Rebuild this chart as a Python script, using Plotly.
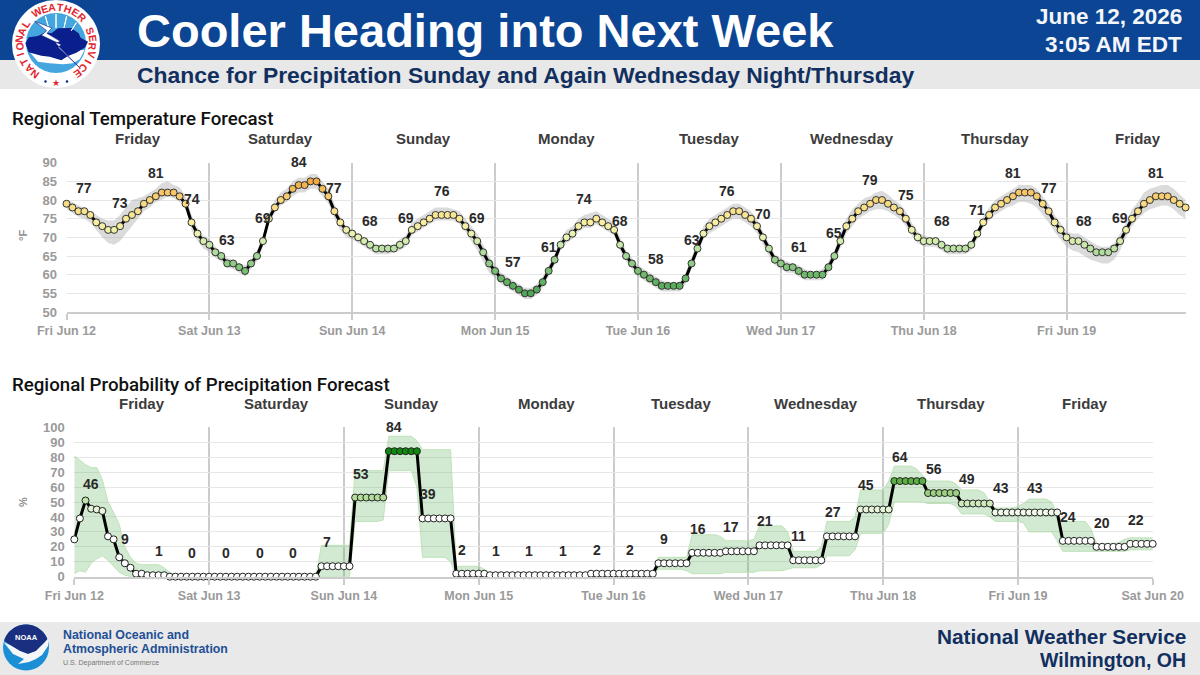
import math
import pandas as pd
import plotly.graph_objects as go

# ---------- data ----------
temp_f = [
 79,78,77,77,76,74,73,72,72,73,75,76,
 77,79,80,81,82,82,82,81,79,74,71,69,
 68,66,65,63,63,62,61,63,65,69,75,78,
 80,81,83,84,84,85,85,83,81,77,74,72,
 71,70,69,68,67,67,67,67,
 68,69,72,73,74,75,76,76,76,76,75,73,
 71,69,66,63,61,59,58,57,56,55,55,56,
 58,61,64,68,70,71,73,74,74,75,74,73,
 72,68,65,63,61,60,59,58,57,57,57,57,
 59,63,67,71,73,74,75,76,77,77,76,75,
 73,70,67,64,63,62,62,61,60,60,60,60,
 62,65,69,73,75,77,78,79,80,80,79,78,
 77,75,72,70,69,69,69,68,67,67,67,67,
 68,71,74,76,78,79,80,81,82,82,82,81,
 79,77,74,72,70,69,69,68,67,66,66,66,
 67,69,72,75,77,79,80,81,81,81,80,79,
 78]
temp_hi = [
 80,79.5,78.5,78,77,76,75,74.5,74.5,76,78,80,
 80.5,81,82,83,84.5,85,84,83.5,81,76,72.5,70.5,
 69.5,67.5,66,64.5,64,63,62.5,64,66.5,70.5,76.5,80,
 82,83,85,86,86,87,87,85,83,79,75.5,73,
 72,71,70,69,68,68,68,68,
 69.5,70.5,74,75,76,77,78,78,78,77.5,77,75,
 73,71,68,65,62.5,60.5,59.5,58.5,57.5,56.5,56.5,57.5,
 59.5,62.5,65.5,69.5,72,73,75,76,76.5,77,76,75,
 74,70,66.5,64.5,62.5,61.5,60.5,59.5,58.5,58,58,58,
 60.5,64.5,68.5,73,75,76,77,78,79,79,78,77,
 75,71.5,68.5,65.5,64.5,63.5,63,62.5,61.5,61,61,61.5,
 63.5,66.5,71,75,77.5,79,80.5,81,82,82.5,81.5,80,
 79,77,74,71.5,70.5,70,70,69,68,68,68,68,
 69,72,75.5,78,80,81,82,83,84,84,84,83,
 81,79,76,74,71.5,71,71,70,69,68,67.5,67.5,
 68.5,71,74,77.5,79.5,82,83,83.5,84,84,83,81.5,
 80]
temp_lo = [
 77.5,76.5,75.5,75,74,72,70,68.5,68,69,71,73,
 75,77,78,79.5,80,81,80.5,79.5,77.5,72,69,67,
 66,64.5,63.5,62,61.5,60.5,59.5,61.5,63.5,67.5,74,76.5,
 78.5,79.5,81,82,82,83,83,81,79,75,72,70,
 69.5,68.5,67.5,66.5,65.5,65.5,65.5,66,
 66.5,67.5,70.5,71.5,72.5,73.5,74.5,74.5,74.5,74.5,73.5,71.5,
 69,66.5,63.5,60.5,59,57.5,56.5,55.5,54.5,53.5,53.5,54.5,
 56.5,59.5,62.5,66.5,68.5,69.5,71.5,72.5,72.5,73.5,72.5,71.5,
 70.5,66.5,63.5,61.5,59.5,58.5,57.5,56.5,55.5,55.5,55.5,55.5,
 57.5,61.5,65.5,69.5,71,72,73,74,75,75,74,73,
 71,68,65,62.5,61.5,60.5,60.5,59.5,58.5,58.5,58.5,58.5,
 60.5,63.5,67,71,73,75,76,77,77.5,77.5,77,76,
 75,73,70.5,68.5,67.5,67.5,67.5,66.5,65.5,65.5,65.5,65.5,
 66.5,69.5,72.5,74.5,76,77,78,78.5,79.5,79.5,79,78,
 76,74,71.5,69.5,67.5,66.5,66,65,64,63.5,63,63,
 64,66.5,70,73,75,76.5,77.5,78,78.5,78.5,77.5,76,
 75]
temp_labels = [77,73,81,74,63,69,84,77,68,69,76,69,57,61,74,68,58,63,76,70,61,65,79,75,68,71,81,77,68,69,81]

pop = [
 25,39,51,45.5,45,44,
 27,25,13,9,6,2,
 2,1,1,1,1,0,
 0,0,0,0,0,0, 0,0,0,0,0,0, 0,0,0,0,0,0, 0,0,0,0,0,0,
 0,0,7,7,7,7, 7,7,53,53,53,53, 53,53,84,84,84,84, 84,84,39,39,39,39, 39,39,2,2,2,2,
 2,2,1,1,1,1, 1,1,1,1,1,1, 1,1,1,1,1,1, 1,1,2,2,2,2, 2,2,2,2,2,2, 2,2,
 9,9,9,9,9,9, 16,16,16,16,16,16, 17,17,17,17,17,17, 21,21,21,21,21,21,
 11,11,11,11,11,11, 27,27,27,27,27,27, 45,45,45,45,45,45, 64,64,64,64,64,64,
 56,56,56,56,56,56, 49,49,49,49,49,49, 43,43,43,43,43,43, 43,43,43,43,43,43,
 24,24,24,24,24,24, 20,20,20,20,20,20, 22,22,22,22,22]
pop_hi = [
 81,78,75,73,73,65,
 50,43,35,20,13,9,
 8,8,8,8,6,3,
 1,0,0,0,0,0, 0,0,0,0,0,0, 0,0,0,0,0,0, 0,0,0,0,0,0,
 0,0,21,21,21,21, 21,21,71,71,71,71, 71,71,94,94,94,94, 94,91,85,85,85,85, 85,85,7,7,7,7,
 7,5,1,1,1,1, 1,1,1,1,1,1, 1,1,1,1,1,1, 1,1,2,2,2,2, 2,2,2,2,2,2, 2,3,
 13,13,13,13,13,13, 28,28,28,28,28,27, 24,24,24,24,24,25, 34,34,34,34,34,30,
 17,17,17,17,17,20, 37,37,37,37,37,40, 58,58,58,58,58,64, 74,74,74,74,72,68,
 64,64,64,64,64,62, 58,58,58,58,56,50, 46,46,46,46,47,49, 52,52,52,52,50,42,
 37,37,37,37,37,32, 22,22,22,22,23,25, 26,26,26,26,26]
pop_lo = [
 2,4,3,9,12,14,
 11,7,3,1,0,0,
 0,0,0,0,0,0,
 0,0,0,0,0,0, 0,0,0,0,0,0, 0,0,0,0,0,0, 0,0,0,0,0,0,
 0,0,0,0,0,0, 0,0,37,37,37,37, 37,38,71,71,71,71, 71,60,13,13,13,13, 13,10,0,0,0,0,
 0,0,0,0,0,0, 0,0,0,0,0,0, 0,0,0,0,0,0, 0,0,0,0,0,0, 0,0,0,0,0,0, 0,0,
 5,5,5,5,5,4, 2,2,2,2,2,2, 3,3,3,3,3,3, 4,4,4,4,4,5,
 6,6,6,6,6,8, 14,14,14,14,14,18, 29,29,29,29,29,35, 50,50,50,50,50,50,
 49,49,49,49,49,47, 42,42,42,42,42,40, 37,37,37,37,37,36, 30,30,30,30,30,24,
 17,17,17,17,17,17, 17,17,17,17,17,17, 18,18,18,18,18]
pop_labels = [46,9,1,0,0,0,0,7,53,84,39,2,1,1,1,2,2,9,16,17,21,11,27,45,64,56,49,43,43,24,20,22]

day_names = ["Friday","Saturday","Sunday","Monday","Tuesday","Wednesday","Thursday","Friday"]
temp_ticks = ["Fri Jun 12","Sat Jun 13","Sun Jun 14","Mon Jun 15","Tue Jun 16","Wed Jun 17","Thu Jun 18","Fri Jun 19"]
pop_ticks = temp_ticks + ["Sat Jun 20"]
start = pd.Timestamp("2026-06-12")
hours_t = [start + pd.Timedelta(hours=h) for h in range(len(temp_f))]
hours_p = [start + pd.Timedelta(hours=h) for h in range(len(pop))]
tick_dates_t = [start + pd.Timedelta(days=d) for d in range(8)]
tick_dates_p = [start + pd.Timedelta(days=d) for d in range(9)]
assert len(temp_f) == len(temp_hi) == len(temp_lo) == 189
assert len(pop) == len(pop_hi) == len(pop_lo) == 193, (len(pop), len(pop_hi), len(pop_lo))

# ---------- helpers ----------
W, H = 1200, 675
def fx(x): return x / W
def fy(y): return 1 - y / H

shapes, notes = [], []
def rect(x0, y0, x1, y1, color):
    shapes.append(dict(type="rect", xref="paper", yref="paper", x0=fx(x0), x1=fx(x1), y0=fy(y0), y1=fy(y1),
                       fillcolor=color, line_width=0, layer="below"))
def circle(cx, cy, r, color, layer="above"):
    shapes.append(dict(type="circle", xref="paper", yref="paper", x0=fx(cx-r), x1=fx(cx+r), y0=fy(cy+r), y1=fy(cy-r),
                       fillcolor=color, line_width=0, layer=layer))
def poly(pts, color, line=None, lw=0):
    d = "M" + " L".join(f"{fx(x):.5f},{fy(y):.5f}" for x, y in pts) + " Z"
    shapes.append(dict(type="path", xref="paper", yref="paper", path=d, fillcolor=color,
                       line=dict(color=line or color, width=lw), layer="above"))
def text(x, y, s, size, color, bold=False, anchor="left", family="Liberation Sans", angle=0, weight=None):
    s2 = f"<b>{s}</b>" if bold else s
    f = dict(size=size, color=color, family=family)
    if weight:
        f["weight"] = weight
    # annotation boxes carry about 2px of padding
    x = x - 2 if anchor == "left" else x + 2 if anchor == "right" else x
    notes.append(dict(xref="x3", yref="y3", x=x, y=y, text=s2, showarrow=False,
                      xanchor=anchor, yanchor="middle", textangle=angle, font=f))

# header / footer
rect(0, 0, 1200, 60, "#0b4594")
rect(0, 60, 1200, 89, "#e8e8e8")
rect(0, 622, 1200, 675, "#e9e9e9")
text(137, 30, "Cooler Heading into Next Week", 47, "white", True)
text(137, 75, "Chance for Precipitation Sunday and Again Wednesday Night/Thursday", 22.9, "#12305f", True)
text(1182, 16, "June 12, 2026", 22.5, "#f4f6fa", True, "right")
text(1182, 44, "3:05 AM EDT", 22.5, "#f4f6fa", True, "right")
text(12, 119, "Regional Temperature Forecast", 18.7, "#111111", False, family="Roboto", weight=500)
text(12, 385, "Regional Probability of Precipitation Forecast", 18.7, "#111111", False, family="Roboto", weight=500)
text(1186, 636, "National Weather Service", 20.8, "#12305f", True, "right")
text(1186, 660, "Wilmington, OH", 19.5, "#12305f", True, "right")
text(63, 635, "National Oceanic and", 12.4, "#1e4f96", True)
text(63, 649, "Atmospheric Administration", 12.3, "#1e4f96", True)
text(63, 663, "U.S. Department of Commerce", 7, "#777777")

# NWS logo
def z(x, y): return (x / 3 + 8, y / 3)
circle(56, 44, 44, "white")
circle(56, 43, 30, "#45a5de")
poly([z(*p) for p in [(60,150),(230,150),(215,178),(195,190),(165,193),(125,190),(90,185)]], "white")
poly([z(*p) for p in [(52,130),(62,112),(90,108),(112,97),(130,100),(150,85),(190,84),(212,100),(218,113),(240,125),(232,142),(205,158),(180,168),(160,181),(125,170),(100,167),(62,157)]], "#0a1f8c")
for a, b in [((144,42),(144,84)), ((112,48),(122,84)), ((176,48),(168,84)), ((205,68),(190,92))]:
    poly([z(*a), z(*b)], "white", "white", 1)
poly([z(*p) for p in [(80,64),(132,84),(117,100),(157,124),(143,130),(214,202),(150,142),(160,134),(100,106),(116,92)]], "white", "#0a1f8c", 0.6)
word = "NATIONAL WEATHER SERVICE"
for i, ch in enumerate(word):
    if ch == " ":
        continue
    th = -144 + 288 * i / (len(word) - 1)
    px = 56 + 37 * math.sin(math.radians(th))
    py = 44 - 37 * math.cos(math.radians(th))
    text(px, py, ch, 10.5, "#e5232c", True, "center", angle=th)
text(56, 83, "★", 9, "#e5232c", False, "center", family="DejaVu Sans")
circle(45.5, 81.5, 1.2, "#0a1f8c")
circle(67, 81.5, 1.2, "#0a1f8c")

# NOAA logo
nx, ny, nr = 26, 647.5, 23
circle(nx, ny, nr, "#1b8fd6")
dome = [(nx + nr*math.cos(math.radians(a)), ny + nr*math.sin(math.radians(a))) for a in range(198, 343, 6)]
poly(dome + [(44, 643), (36, 651), (28, 654), (20, 651), (10, 645)], "#1a2f7f")
poly([(3.5, 642), (10, 645), (20, 651), (28, 654), (36, 651), (44, 643), (48.5, 638), (48, 646), (42, 655), (36, 659),
      (29, 662), (18, 664), (24, 659), (13, 654)], "#f4f6f8")
text(26, 637, "NOAA", 7.5, "white", True, "center")

# axis titles
text(23, 236, "°F", 11, "#8e8e8e", True, "center", angle=-90)
text(23, 502, "%", 11, "#8e8e8e", True, "center", angle=-90)

# chart-linked annotations
GREY = "#9a9a9a"
for i, name in enumerate(day_names):
    notes.append(dict(xref="x", yref="y3", x=start + pd.Timedelta(hours=12 + 24*i), y=138, text=f"<b>{name}</b>",
                      showarrow=False, yanchor="middle", font=dict(size=15, color="#3c3c3c", family="Liberation Sans")))
    notes.append(dict(xref="x2", yref="y3", x=start + pd.Timedelta(hours=12 + 24*i), y=403, text=f"<b>{name}</b>",
                      showarrow=False, yanchor="middle", font=dict(size=15, color="#3c3c3c", family="Liberation Sans")))
for i, v in enumerate(temp_labels):
    h = 3 + 6*i
    notes.append(dict(xref="x", yref="y", x=hours_t[h], y=temp_f[h], yshift=23.5, text=f"<b>{v}</b>", showarrow=False,
                      yanchor="middle", font=dict(size=14, color="#2a2a2a", family="Liberation Sans")))
for i, v in enumerate(pop_labels):
    h = 3 + 6*i
    notes.append(dict(xref="x2", yref="y2", x=start + pd.Timedelta(hours=h), y=v, yshift=24, text=f"<b>{v}</b>", showarrow=False,
                      yanchor="middle", font=dict(size=14, color="#2a2a2a", family="Liberation Sans")))

fig = go.Figure()
# temperature
fig.add_trace(go.Scatter(x=hours_t, y=temp_lo, mode="lines", line=dict(width=0), showlegend=False, hoverinfo="skip", xaxis="x", yaxis="y"))
fig.add_trace(go.Scatter(x=hours_t, y=temp_hi, mode="lines", line=dict(width=0, color="#d4d4d4"), fill="tonexty",
                         fillcolor="rgba(170,170,170,0.42)", showlegend=False, hoverinfo="skip", xaxis="x", yaxis="y"))
fig.add_trace(go.Scatter(x=hours_t, y=temp_f, mode="lines+markers", showlegend=False, xaxis="x", yaxis="y", cliponaxis=False,
    line=dict(color="#000000", width=3),
    marker=dict(size=7, color=temp_f, cmin=50, cmax=90,
                colorscale=[[0, "#2f8a3c"], [0.125, "#4fa455"], [0.25, "#6fba6a"], [0.375, "#a4d696"], [0.45, "#c8e8ac"], [0.5, "#e6f2b4"],
                            [0.6, "#f8ee9e"], [0.75, "#f8d67c"], [0.875, "#f2ab42"], [1, "#ec8a20"]],
                line=dict(color="#333333", width=1))))
# precipitation
fig.add_trace(go.Scatter(x=hours_p, y=pop_lo, mode="lines", line=dict(width=1, color="#bfe2b8"), showlegend=False, hoverinfo="skip", xaxis="x2", yaxis="y2"))
fig.add_trace(go.Scatter(x=hours_p, y=pop_hi, mode="lines", line=dict(width=1, color="#bfe2b8"), fill="tonexty",
                         fillcolor="rgba(90,180,90,0.28)", showlegend=False, hoverinfo="skip", xaxis="x2", yaxis="y2"))
fig.add_trace(go.Scatter(x=hours_p, y=pop, mode="lines+markers", showlegend=False, xaxis="x2", yaxis="y2", cliponaxis=False,
    line=dict(color="#000000", width=3),
    marker=dict(size=7, color=pop, cmin=0, cmax=100,
                colorscale=[[0, "#ffffff"], [0.4, "#ffffff"], [0.46, "#e3f3d4"], [0.53, "#b4dd9c"], [0.64, "#5bb044"], [0.84, "#0f8a10"], [1, "#0a6e0a"]],
                line=dict(color="#222222", width=1))))
# empty trace so the page-pixel axes used for placing titles exist
fig.add_trace(go.Scatter(x=[], y=[], xaxis="x3", yaxis="y3", showlegend=False))

axis_font = dict(size=12.5, color=GREY, family="Liberation Sans")
y_font = dict(size=13, color=GREY, family="Liberation Sans")
T_X = [66.5, 1185.6]; T_Y = [162.7, 312]
P_X = [74.3, 1152.7]; P_Y = [427.3, 576.7]
fig.update_layout(
    width=W, height=H, margin=dict(l=0, r=0, t=0, b=0, autoexpand=False), paper_bgcolor="white", plot_bgcolor="rgba(0,0,0,0)",
    showlegend=False, shapes=shapes, annotations=notes,
    xaxis3=dict(domain=[0, 1], range=[0, W], visible=False, anchor="y3", fixedrange=True, automargin=False),
    yaxis3=dict(domain=[0, 1], range=[H, 0], visible=False, anchor="x3", fixedrange=True, automargin=False),
    xaxis=dict(domain=[fx(T_X[0]), fx(T_X[1])], range=[hours_t[0], hours_t[-1]], anchor="y", tickmode="array", automargin=False,
               tickvals=tick_dates_t, ticktext=[f"<b>{t}</b>" for t in temp_ticks], showgrid=True, gridcolor="#cccccc", gridwidth=1.5,
               ticks="outside", ticklen=6, tickcolor="#cccccc", tickwidth=1.5, tickfont=axis_font, showline=True, linecolor="#cccccc", linewidth=2, zeroline=False),
    yaxis=dict(domain=[fy(T_Y[1]), fy(T_Y[0])], range=[50, 90], dtick=5, anchor="x", gridcolor="#e6e6e6", gridwidth=1, automargin=False,
               tickfont=y_font, tickprefix="<b>", ticksuffix="</b>", zeroline=False, ticklen=6, ticks="outside", tickcolor="rgba(0,0,0,0)"),
    xaxis2=dict(domain=[fx(P_X[0]), fx(P_X[1])], range=[hours_p[0], hours_p[-1]], anchor="y2", tickmode="array", automargin=False,
                tickvals=tick_dates_p, ticktext=[f"<b>{t}</b>" for t in pop_ticks], showgrid=True, gridcolor="#cccccc", gridwidth=1.5,
                ticks="outside", ticklen=6, tickcolor="#cccccc", tickwidth=1.5, tickfont=axis_font, showline=True, linecolor="#cccccc", linewidth=2, zeroline=False),
    yaxis2=dict(domain=[fy(P_Y[1]), fy(P_Y[0])], range=[0, 100], dtick=10, anchor="x2", gridcolor="#e6e6e6", gridwidth=1, automargin=False,
                tickfont=y_font, tickprefix="<b>", ticksuffix="</b>", zeroline=False, ticklen=6, ticks="outside", tickcolor="rgba(0,0,0,0)"),
)
fig.write_html("out.html", config={"displayModeBar": False},
               post_script="document.body.style.margin='0';document.documentElement.style.overflow='hidden';")
